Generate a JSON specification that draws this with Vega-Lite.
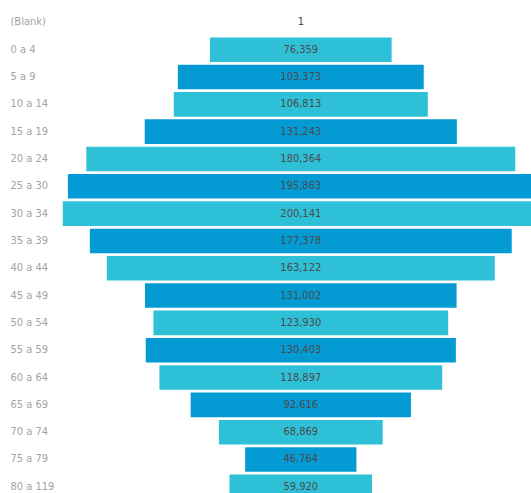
{
  "$schema": "https://vega.github.io/schema/vega-lite/v6.json",
  "width": 531,
  "height": 493,
  "autosize": {"type": "none"},
  "padding": 0,
  "background": "white",
  "config": {"view": {"stroke": null}},
  "data": {
    "values": [
      {"age": "(Blank)", "value": 1},
      {"age": "0 a 4", "value": 76359},
      {"age": "5 a 9", "value": 103373},
      {"age": "10 a 14", "value": 106813},
      {"age": "15 a 19", "value": 131243},
      {"age": "20 a 24", "value": 180364},
      {"age": "25 a 30", "value": 195863},
      {"age": "30 a 34", "value": 200141},
      {"age": "35 a 39", "value": 177378},
      {"age": "40 a 44", "value": 163122},
      {"age": "45 a 49", "value": 131002},
      {"age": "50 a 54", "value": 123930},
      {"age": "55 a 59", "value": 130403},
      {"age": "60 a 64", "value": 118897},
      {"age": "65 a 69", "value": 92616},
      {"age": "70 a 74", "value": 68869},
      {"age": "75 a 79", "value": 46764},
      {"age": "80 a 119", "value": 59920}
    ]
  },
  "transform": [
    {"window": [{"op": "row_number", "as": "rn"}]},
    {"calculate": "datum.rn % 2 == 0 ? 'light' : 'dark'", "as": "shade"}
  ],
  "encoding": {
    "y": {
      "field": "age",
      "type": "nominal",
      "sort": null,
      "scale": {"range": [10.1, 499.1], "paddingInner": 0.1, "paddingOuter": 0},
      "axis": {
        "title": null,
        "domain": false,
        "ticks": false,
        "tickSize": 0,
        "labelAlign": "left",
        "labelPadding": -10,
        "labelFont": "Liberation Sans Narrow, DejaVu Sans Condensed, Roboto Condensed, Liberation Sans, sans-serif",
        "labelFontSize": 11,
        "labelColor": "#a3a3a3",
        "labelBaseline": "middle"
      }
    }
  },
  "layer": [
    {
      "mark": {"type": "bar", "clip": true},
      "encoding": {
        "x": {
          "field": "value",
          "type": "quantitative",
          "stack": "center",
          "scale": {"domain": [0, 200141], "range": [62.8, 538.8], "nice": false, "zero": false},
          "axis": null
        },
        "color": {
          "field": "shade",
          "type": "nominal",
          "scale": {"domain": ["light", "dark"], "range": ["#2ec0d7", "#049bd5"]},
          "legend": null
        }
      }
    },
    {
      "mark": {
        "type": "text",
        "font": "Liberation Sans Narrow, DejaVu Sans Condensed, Roboto Condensed, Liberation Sans, sans-serif",
        "fontSize": 11,
        "color": "#4a4a4a",
        "baseline": "middle",
        "align": "center"
      },
      "encoding": {
        "x": {"datum": 100070.5, "type": "quantitative"},
        "text": {"field": "value", "type": "quantitative", "format": ",d"}
      }
    }
  ]
}
